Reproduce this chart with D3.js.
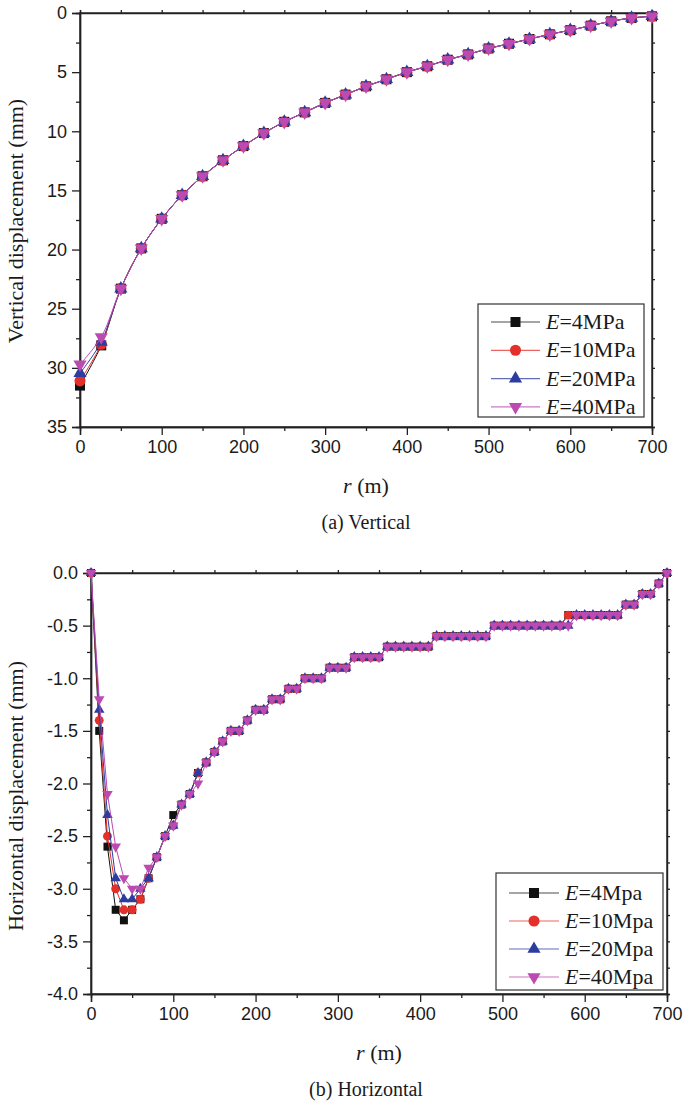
<!DOCTYPE html>
<html>
<head>
<meta charset="utf-8">
<script src="https://cdn.jsdelivr.net/npm/d3@7"></script>
<style>
  body { margin: 0; background: #fff; }
  svg { display: block; }
</style>
</head>
<body>
<script>
// ---- data ----
var seriesNames = ['4', '10', '20', '40'];
var seriesColors = ['#111111', '#e3302a', '#2c3d9f', '#bc4ab1'];
var seriesSymbols = ['square', 'circle', 'triangle', 'triangleDown'];

// (a) vertical displacement, r in m
var rVert = [0, 26, 50, 75, 100, 125, 150, 175, 200, 225, 250, 275, 300, 325, 350,
  375, 400, 425, 450, 475, 500, 525, 550, 575, 600, 625, 650, 675, 700];
var vertE4 = [31.5, 28.1, 23.3, 19.9, 17.4, 15.4, 13.8, 12.45, 11.25, 10.15, 9.2, 8.4, 7.6, 6.9, 6.2,
  5.6, 5.0, 4.5, 3.95, 3.5, 3.0, 2.6, 2.2, 1.8, 1.45, 1.07, 0.7, 0.42, 0.28];
var vertE10 = [31.1, 28.0, 23.3, 19.9, 17.4, 15.4, 13.8, 12.45, 11.25, 10.15, 9.2, 8.4, 7.6, 6.9, 6.2,
  5.6, 5.0, 4.5, 3.95, 3.5, 3.0, 2.6, 2.2, 1.8, 1.45, 1.07, 0.7, 0.42, 0.28];
var vertE20 = [30.45, 27.8, 23.3, 19.9, 17.4, 15.4, 13.8, 12.45, 11.25, 10.15, 9.2, 8.4, 7.6, 6.9, 6.2,
  5.6, 5.0, 4.5, 3.95, 3.5, 3.0, 2.6, 2.2, 1.8, 1.45, 1.07, 0.7, 0.42, 0.28];
var vertE40 = [29.7, 27.4, 23.3, 19.9, 17.4, 15.4, 13.8, 12.45, 11.25, 10.15, 9.2, 8.4, 7.6, 6.9, 6.2,
  5.6, 5.0, 4.5, 3.95, 3.5, 3.0, 2.6, 2.2, 1.8, 1.45, 1.07, 0.7, 0.42, 0.28];

// (b) horizontal displacement, r in m (every 10 m)
var rHoriz = [0, 10, 20, 30, 40, 50, 60, 70, 80, 90, 100, 110, 120, 130, 140, 150, 160, 170, 180, 190,
  200, 210, 220, 230, 240, 250, 260, 270, 280, 290, 300, 310, 320, 330, 340, 350, 360, 370, 380, 390,
  400, 410, 420, 430, 440, 450, 460, 470, 480, 490, 500, 510, 520, 530, 540, 550, 560, 570, 580, 590,
  600, 610, 620, 630, 640, 650, 660, 670, 680, 690, 700];
var horizE4 = [0, -1.5, -2.6, -3.2, -3.3, -3.2, -3.1, -2.9, -2.7, -2.5, -2.3, -2.2, -2.1, -1.9, -1.8, -1.7, -1.6, -1.5, -1.5, -1.4,
  -1.3, -1.3, -1.2, -1.2, -1.1, -1.1, -1.0, -1.0, -1.0, -0.9, -0.9, -0.9, -0.8, -0.8, -0.8, -0.8, -0.7, -0.7, -0.7, -0.7,
  -0.7, -0.7, -0.6, -0.6, -0.6, -0.6, -0.6, -0.6, -0.6, -0.5, -0.5, -0.5, -0.5, -0.5, -0.5, -0.5, -0.5, -0.5, -0.4, -0.4,
  -0.4, -0.4, -0.4, -0.4, -0.4, -0.3, -0.3, -0.2, -0.2, -0.1, 0];
var horizE10 = [0, -1.4, -2.5, -3.0, -3.2, -3.2, -3.1, -2.9, -2.7, -2.5, -2.4, -2.2, -2.1, -1.9, -1.8, -1.7, -1.6, -1.5, -1.5, -1.4,
  -1.3, -1.3, -1.2, -1.2, -1.1, -1.1, -1.0, -1.0, -1.0, -0.9, -0.9, -0.9, -0.8, -0.8, -0.8, -0.8, -0.7, -0.7, -0.7, -0.7,
  -0.7, -0.7, -0.6, -0.6, -0.6, -0.6, -0.6, -0.6, -0.6, -0.5, -0.5, -0.5, -0.5, -0.5, -0.5, -0.5, -0.5, -0.5, -0.4, -0.4,
  -0.4, -0.4, -0.4, -0.4, -0.4, -0.3, -0.3, -0.2, -0.2, -0.1, 0];
var horizE20 = [0, -1.3, -2.3, -2.9, -3.1, -3.1, -3.0, -2.9, -2.7, -2.5, -2.4, -2.2, -2.1, -1.9, -1.8, -1.7, -1.6, -1.5, -1.5, -1.4,
  -1.3, -1.3, -1.2, -1.2, -1.1, -1.1, -1.0, -1.0, -1.0, -0.9, -0.9, -0.9, -0.8, -0.8, -0.8, -0.8, -0.7, -0.7, -0.7, -0.7,
  -0.7, -0.7, -0.6, -0.6, -0.6, -0.6, -0.6, -0.6, -0.6, -0.5, -0.5, -0.5, -0.5, -0.5, -0.5, -0.5, -0.5, -0.5, -0.5, -0.4,
  -0.4, -0.4, -0.4, -0.4, -0.4, -0.3, -0.3, -0.2, -0.2, -0.1, 0];
var horizE40 = [0, -1.2, -2.1, -2.6, -2.9, -3.0, -3.0, -2.8, -2.7, -2.5, -2.4, -2.2, -2.1, -2.0, -1.8, -1.7, -1.6, -1.5, -1.5, -1.4,
  -1.3, -1.3, -1.2, -1.2, -1.1, -1.1, -1.0, -1.0, -1.0, -0.9, -0.9, -0.9, -0.8, -0.8, -0.8, -0.8, -0.7, -0.7, -0.7, -0.7,
  -0.7, -0.7, -0.6, -0.6, -0.6, -0.6, -0.6, -0.6, -0.6, -0.5, -0.5, -0.5, -0.5, -0.5, -0.5, -0.5, -0.5, -0.5, -0.5, -0.4,
  -0.4, -0.4, -0.4, -0.4, -0.4, -0.3, -0.3, -0.2, -0.2, -0.1, 0];

var xTicks = [0, 100, 200, 300, 400, 500, 600, 700];
var vertTicks = [0, 5, 10, 15, 20, 25, 30, 35];
var horizTicks = [0, -0.5, -1.0, -1.5, -2.0, -2.5, -3.0, -3.5, -4.0];

// ---- page ----
var width = 684, height = 1104;
var svg = d3.select('body').append('svg')
  .attr('width', width)
  .attr('height', height);

var SANS = 'Liberation Sans, Arial, sans-serif';
var SERIF = 'Liberation Serif, Times New Roman, serif';

function symbolPath(kind, big) {
  var s = big ? 1.25 : 1;
  if (kind === 'square') return d3.symbol(d3.symbolSquare, 64 * s * s)();
  if (kind === 'circle') return d3.symbol(d3.symbolCircle, 62 * s * s)();
  return d3.symbol(d3.symbolTriangle, 48 * s * s)();
}

function addMarker(g, kind, x, y, color, big) {
  var p = g.append('path')
    .attr('d', symbolPath(kind, big))
    .attr('fill', color);
  if (kind === 'triangleDown')
    p.attr('transform', 'translate(' + x + ',' + y + ') rotate(180)');
  else
    p.attr('transform', 'translate(' + x + ',' + y + ')');
  return p;
}

// draw one panel
function drawPanel(opt) {
  var x = d3.scaleLinear().domain([0, 700]).range([opt.left, opt.right]);
  var y = d3.scaleLinear().domain(opt.yDomain).range([opt.top, opt.bottom]);
  var g = svg.append('g');

  // frame: top and right axes with small outward ticks
  g.append('rect')
    .attr('x', opt.left).attr('y', opt.top)
    .attr('width', opt.right - opt.left).attr('height', opt.bottom - opt.top)
    .attr('fill', 'none').attr('stroke', '#222').attr('stroke-width', 1.4);

  var topAxis = d3.axisTop(x).tickValues(d3.range(0, 701, 50)).tickSize(3).tickFormat('');
  g.append('g').attr('transform', 'translate(0,' + opt.top + ')').call(topAxis);
  var rightAxis = d3.axisRight(y).tickValues(opt.yMinor.concat(opt.yTicks)).tickSize(3).tickFormat('');
  g.append('g').attr('transform', 'translate(' + opt.right + ',0)').call(rightAxis);

  // bottom axis
  var bottomMinor = d3.axisBottom(x).tickValues(d3.range(50, 700, 100)).tickSize(4).tickFormat('');
  g.append('g').attr('transform', 'translate(0,' + opt.bottom + ')').call(bottomMinor);
  var bottomAxis = d3.axisBottom(x).tickValues(xTicks).tickSize(8).tickPadding(5);
  g.append('g').attr('class', 'xaxis').attr('transform', 'translate(0,' + opt.bottom + ')').call(bottomAxis);

  // left axis
  var leftMinor = d3.axisLeft(y).tickValues(opt.yMinor).tickSize(4).tickFormat('');
  g.append('g').attr('transform', 'translate(' + opt.left + ',0)').call(leftMinor);
  var leftAxis = d3.axisLeft(y).tickValues(opt.yTicks).tickSize(8).tickPadding(5).tickFormat(opt.yFormat);
  g.append('g').attr('class', 'yaxis').attr('transform', 'translate(' + opt.left + ',0)').call(leftAxis);

  g.selectAll('.domain').attr('stroke', '#222').attr('stroke-width', 1.4);
  g.selectAll('.tick line').attr('stroke', '#222').attr('stroke-width', 1.3);
  g.selectAll('.xaxis .tick text, .yaxis .tick text')
    .attr('font-family', SANS).attr('font-size', 18).attr('fill', '#1a1a1a');

  // series
  var line = d3.line()
    .x(function (d) { return x(d[0]); })
    .y(function (d) { return y(d[1]); })
    .curve(opt.curve);

  opt.series.forEach(function (vals, i) {
    var pts = opt.r.map(function (r, j) { return [r, vals[j]]; });
    g.append('path')
      .datum(pts)
      .attr('d', line)
      .attr('fill', 'none')
      .attr('stroke', seriesColors[i])
      .attr('stroke-width', 1);
    var mg = g.append('g');
    pts.forEach(function (p) {
      addMarker(mg, seriesSymbols[i], x(p[0]), y(p[1]), seriesColors[i], opt.bigMarkers);
    });
  });

  // axis titles
  svg.append('text')
    .attr('transform', 'translate(' + opt.yTitleX + ',' + opt.yTitleY + ') rotate(-90)')
    .attr('text-anchor', 'middle')
    .attr('font-family', SERIF).attr('font-size', 22).attr('fill', '#1a1a1a')
    .text(opt.yTitle);

  var xt = svg.append('text')
    .attr('x', (opt.left + opt.right) / 2).attr('y', opt.xTitleY)
    .attr('text-anchor', 'middle')
    .attr('font-family', SERIF).attr('font-size', 22).attr('fill', '#1a1a1a');
  xt.append('tspan').attr('font-style', 'italic').text('r');
  xt.append('tspan').text(' (m)');

  svg.append('text')
    .attr('x', 366).attr('y', opt.captionY)
    .attr('text-anchor', 'middle')
    .attr('font-family', SERIF).attr('font-size', 20).attr('fill', '#1a1a1a')
    .text(opt.caption);

  // legend
  var L = opt.legend;
  svg.append('rect')
    .attr('x', L.x).attr('y', L.y).attr('width', L.w).attr('height', L.h)
    .attr('fill', '#fff').attr('stroke', '#333').attr('stroke-width', 1.2);
  seriesNames.forEach(function (name, i) {
    var yy = L.y + L.first + i * L.step;
    svg.append('line')
      .attr('x1', L.lineX1).attr('x2', L.lineX2).attr('y1', yy).attr('y2', yy)
      .attr('stroke', seriesColors[i]).attr('stroke-width', 1.2).attr('opacity', 0.75);
    addMarker(svg, seriesSymbols[i], (L.lineX1 + L.lineX2) / 2, yy, seriesColors[i], true);
    var t = svg.append('text')
      .attr('x', L.textX).attr('y', yy + 7)
      .attr('font-family', SERIF).attr('font-size', 22).attr('fill', '#1a1a1a');
    t.append('tspan').attr('font-style', 'italic').text('E');
    t.append('tspan').text('=' + name + L.unit);
  });
}

drawPanel({
  left: 80, right: 652, top: 13, bottom: 427,
  yDomain: [0, 35],
  yTicks: vertTicks,
  yMinor: [2.5, 7.5, 12.5, 17.5, 22.5, 27.5, 32.5],
  yFormat: function (d) { return String(d); },
  r: rVert,
  series: [vertE4, vertE10, vertE20, vertE40],
  curve: d3.curveCatmullRom,
  bigMarkers: true,
  yTitle: 'Vertical displacement (mm)', yTitleX: 23, yTitleY: 221,
  xTitleY: 493,
  caption: '(a) Vertical', captionY: 529,
  legend: { x: 478, y: 304, w: 166, h: 113, first: 18, step: 28.3,
    lineX1: 491, lineX2: 540, textX: 546, unit: 'MPa' }
});

drawPanel({
  left: 91, right: 667, top: 573, bottom: 994,
  yDomain: [0, -4],
  yTicks: horizTicks,
  yMinor: [-0.25, -0.75, -1.25, -1.75, -2.25, -2.75, -3.25, -3.75],
  yFormat: function (d) { return d.toFixed(1).replace('-0.0', '0.0'); },
  r: rHoriz,
  series: [horizE4, horizE10, horizE20, horizE40],
  curve: d3.curveLinear,
  bigMarkers: false,
  yTitle: 'Horizontal displacement (mm)', yTitleX: 23, yTitleY: 796,
  xTitleY: 1060,
  caption: '(b) Horizontal', captionY: 1096,
  legend: { x: 496, y: 873, w: 167, h: 117, first: 20, step: 28,
    lineX1: 509, lineX2: 559, textX: 565, unit: 'Mpa' }
});
</script>
</body>
</html>
